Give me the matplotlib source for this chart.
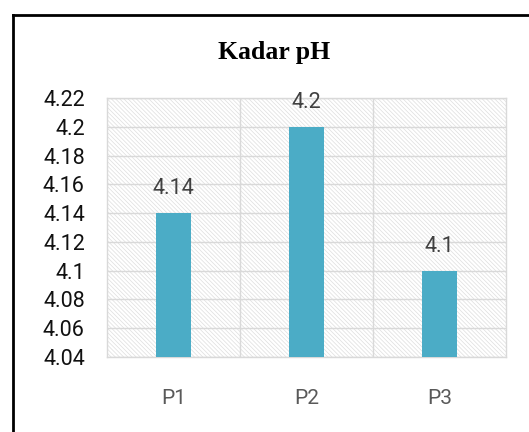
import matplotlib.pyplot as plt
from matplotlib.lines import Line2D

# data
kategori = ["P1", "P2", "P3"]
nilai_ph = [4.14, 4.2, 4.1]
y_ticks = [4.04, 4.06, 4.08, 4.1, 4.12, 4.14, 4.16, 4.18, 4.2, 4.22]
y_labels = ["4.04", "4.06", "4.08", "4.1", "4.12", "4.14", "4.16", "4.18", "4.2", "4.22"]

plt.rcParams['hatch.linewidth'] = 0.5
plt.rcParams['hatch.color'] = '#dedede'

fig = plt.figure(figsize=(5.29, 4.32), dpi=100)
ax = fig.add_axes([107 / 529, 1 - 357 / 432, 399 / 529, 259 / 432])

# hatched plot area
ax.patch.set_facecolor('white')
ax.patch.set_hatch('\\' * 8)
ax.patch.set_edgecolor('#dedede')

ax.set_xlim(-0.5, 2.5)
ax.set_ylim(4.04, 4.22)
ax.set_yticks(y_ticks)
ax.set_yticklabels(y_labels, fontfamily='Roboto', fontsize=15.5, color='#111111')
ax.set_xticks(range(len(kategori)))
ax.set_xticklabels(kategori, fontfamily='Roboto', fontsize=15, color='#595959')
ax.tick_params(axis='y', length=0, pad=16)
ax.tick_params(axis='x', length=0, pad=23)

# gridlines
for y in y_ticks:
    ax.axhline(y, color='#d9d9d9', lw=1, zorder=1)
for x in [0.5, 1.5]:
    ax.axvline(x, color='#d9d9d9', lw=1, zorder=1)
for s in ax.spines.values():
    s.set_color('#d9d9d9')
    s.set_linewidth(1)

bars = ax.bar(range(len(kategori)), nilai_ph, width=0.27, color='#4bacc6', zorder=3)
for b, v in zip(bars, nilai_ph):
    ax.annotate(f"{v:g}", (b.get_x() + b.get_width() / 2, v), xytext=(0, 10),
                textcoords='offset points', ha='center', va='bottom',
                fontfamily='Roboto', fontsize=15.5, color='#404040')

fig.text(274 / 529, 1 - 52 / 432, "Kadar pH", ha='center', va='center',
         fontfamily='Liberation Serif', fontweight='bold', fontsize=18.5)

# outer border
fig.add_artist(Line2D([12.5 / 529, 12.5 / 529], [0, 1 - 14.5 / 432], color='black', lw=2,
                      transform=fig.transFigure))
fig.add_artist(Line2D([12.5 / 529, 1], [1 - 14.5 / 432, 1 - 14.5 / 432], color='black', lw=2,
                      transform=fig.transFigure, solid_capstyle='projecting'))

fig.savefig("out.png", dpi=100)
